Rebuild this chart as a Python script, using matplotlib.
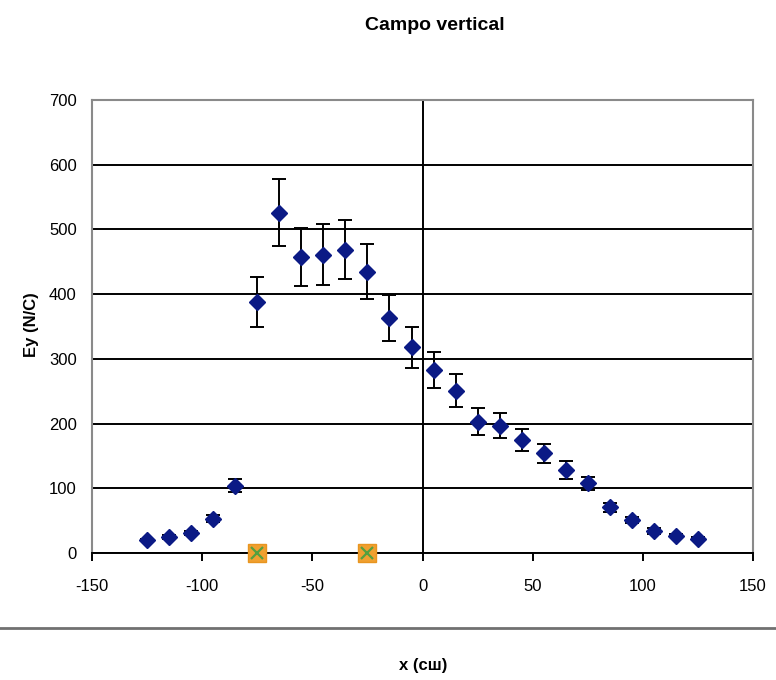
import matplotlib.pyplot as plt
from matplotlib.lines import Line2D

# medidas del campo vertical
x_pos = [-125, -115, -105, -95, -85, -75, -65, -55, -45, -35, -25, -15, -5,
         5, 15, 25, 35, 45, 55, 65, 75, 85, 95, 105, 115, 125]
ey = [20, 25, 31, 53, 104, 388, 526, 458, 461, 469, 435, 363, 318,
      283, 251, 203, 197, 175, 154, 128, 108, 71, 51, 34, 27, 22]
ey_err = [2, 3, 3, 5, 10, 38, 52, 45, 47, 46, 42, 36, 32,
          28, 26, 21, 19, 17, 15, 14, 10, 7, 5, 4, 3, 2]

# posiciones de las placas
placas_x = [-75, -25]
placas_y = [0, 0]

plt.rcParams['font.family'] = ['Liberation Sans', 'DejaVu Sans']
plt.rcParams['axes.unicode_minus'] = False

fig = plt.figure(figsize=(7.76, 6.8), dpi=100)
ax = fig.add_axes([0.1186, 0.1868, 0.8518, 0.666])

for yv in range(0, 700, 100):
    ax.axhline(yv, color='black', lw=1.4, zorder=1)
ax.axvline(0, color='black', lw=1.4, zorder=1)

ax.errorbar(x_pos, ey, yerr=ey_err, fmt='none', ecolor='black',
            elinewidth=1.4, capsize=5, capthick=1.4, zorder=2)
ax.plot(x_pos, ey, 'D', color='#0b1a85', ms=8, mec='#0b1a85', zorder=3)

ax.plot(placas_x, placas_y, 's', color='#f0a030', ms=13, mec='#e89520',
        zorder=4, clip_on=False)
ax.plot(placas_x, placas_y, 'x', color='#55a040', ms=8, mew=1.6,
        zorder=5, clip_on=False)

ax.set_xlim(-150, 150)
ax.set_ylim(0, 700)
ax.set_xticks(range(-150, 151, 50))
ax.set_yticks(range(0, 701, 100))

for s in ['top', 'right', 'left']:
    ax.spines[s].set_color('#8a8a8a')
    ax.spines[s].set_linewidth(1.5)
ax.spines['bottom'].set_color('black')
ax.spines['bottom'].set_linewidth(1.4)

ax.tick_params(axis='x', direction='out', length=6, width=1.4,
               color='black', pad=13, labelsize=12)
ax.tick_params(axis='y', length=0, pad=11, labelsize=12)

fig.text(0.56, 0.962, 'Campo vertical', ha='center', va='center',
         fontsize=14, fontweight='bold')
fig.text(0.04, 0.522, 'Ey (N/C)', ha='center', va='center',
         rotation=90, fontsize=12, fontweight='bold')
fig.text(0.545, 0.022, 'x (cш)', ha='center', va='center',
         fontsize=12, fontweight='bold')

fig.add_artist(Line2D([0, 1], [0.0765, 0.0765], transform=fig.transFigure,
                      color='#707070', lw=2))

fig.savefig('out.png', dpi=100)
